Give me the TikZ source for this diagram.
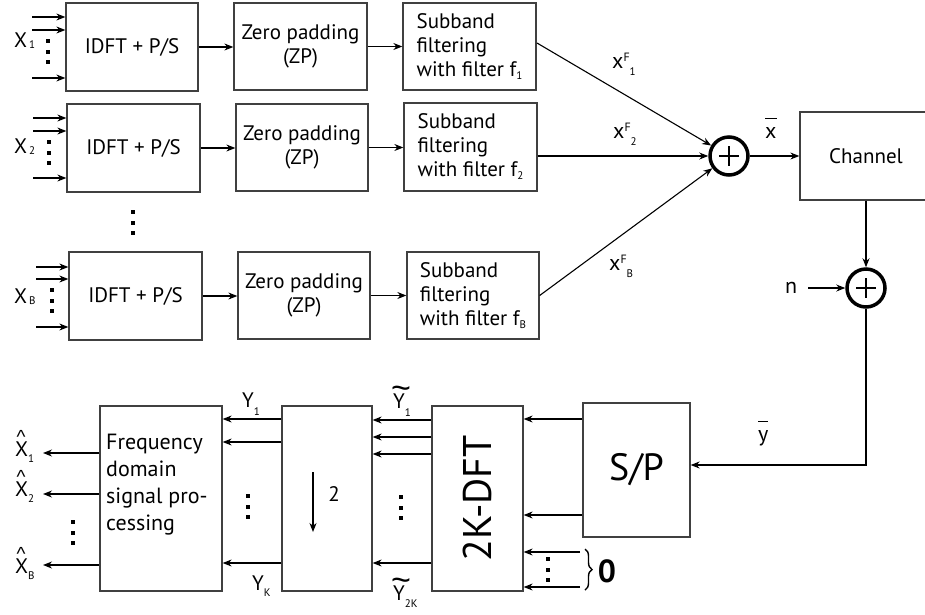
\documentclass[tikz,border=0pt]{standalone}
\usepackage{fontspec}
\setmainfont{PT Sans}
\newfontfamily\mkfont{Liberation Sans}
\usetikzlibrary{arrows.meta,decorations.pathreplacing}
\newcommand\sbx[2][6pt]{\raisebox{-#1}{\fontsize{11}{11}\selectfont #2}}
\newcommand\spx[1]{\raisebox{7pt}{\fontsize{12}{12}\selectfont #1}}
\newcommand\topm[3]{\rlap{\hspace{#2}\raisebox{#3}{#1}}}
\newcommand\obar[1]{\setbox0\hbox{#1}\rlap{\raisebox{19pt}{\rule{\wd0}{1.1pt}}}\box0}
\newcommand\hatm{\mkfont\fontsize{19}{19}\selectfont\char"5E}
\newcommand\tilm{\mkfont\fontsize{34}{34}\selectfont\char"7E}
\newcommand\dotcol[2]{\foreach \dy in {0,10.5,21}{\fill (#1-2,#2+\dy-2) rectangle ++(4,4);}}
\begin{document}
\begin{tikzpicture}[x=1pt,y=-1pt,
  font=\fontsize{21}{24}\selectfont,
  blk/.style={draw=black!75,line width=1.3pt,inner sep=0pt,align=center},
  arr/.style={-{Stealth[length=9pt,width=7pt]},line width=1.1pt},
  sumnode/.style={circle,draw,line width=3.5pt,minimum size=38pt,inner sep=0pt},
  lbl/.style={anchor=base west,inner sep=0pt},
  big/.style={font=\fontsize{22}{24}\selectfont}]
\useasboundingbox (0,0) rectangle (925,614);
\clip (0,0) rectangle (925,614);

% ---- row 1
\node[blk,minimum width=132,minimum height=88] (idftA) at (132,47) {IDFT + P/S};
\node[blk,minimum width=133,minimum height=87] (zpA) at (300.5,46.5) {Zero padding\\(ZP)};
\node[blk,align=left,minimum width=133,minimum height=87] (sbA) at (469.5,46.5) {Subband\\filtering\\with filter f\sbx[3pt]{1}};
% ---- row 2
\node[blk,minimum width=133,minimum height=88] (idftB) at (133.5,148) {IDFT + P/S};
\node[blk,minimum width=132,minimum height=87] (zpB) at (302,147.5) {Zero padding\\(ZP)};
\node[blk,align=left,minimum width=133,minimum height=88] (sbB) at (470.5,147) {Subband\\filtering\\with filter f\sbx[3pt]{2}};
% ---- row B
\node[blk,minimum width=133,minimum height=88] (idftC) at (135.5,296) {IDFT + P/S};
\node[blk,minimum width=132,minimum height=87] (zpC) at (304,295.5) {Zero padding\\(ZP)};
\node[blk,align=left,minimum width=132,minimum height=87] (sbC) at (473,295.5) {Subband\\filtering\\with filter f\sbx[3pt]{B}};

\foreach \r in {A,B,C}{
  \draw[arr] (idft\r.east) -- (idft\r.east -| zp\r.west);
  \draw[arr] (zp\r.east) -- (zp\r.east -| sb\r.west);
}
\foreach \yy in {17,30,78}{\coordinate (in) at (32,\yy); \draw[arr] (in) -- (in -| idftA.west);}
\foreach \yy in {118,131,178}{\coordinate (in) at (33,\yy); \draw[arr] (in) -- (in -| idftB.west);}
\foreach \yy in {267,279,327}{\coordinate (in) at (36,\yy); \draw[arr] (in) -- (in -| idftC.west);}

\node[lbl] (XA) at (14,47) {X\hspace{2pt}\sbx[1pt]{1}};
\node[lbl] (XB) at (14,153) {X\hspace{2pt}\sbx[1pt]{2}};
\node[lbl] (XC) at (14,303) {X\hspace{2pt}\sbx[1pt]{B}};
\dotcol{48}{41}
\dotcol{49}{142}
\dotcol{52}{290}
\dotcol{133}{212}

% ---- summation and channel
\node[sumnode] (s1) at (729,156) {};
\draw[line width=1.8pt] (s1.center) +(-10,0) -- +(10,0) (s1.center) +(0,-10) -- +(0,10);
\coordinate (sbAout) at (537,43);
\draw[arr] (sbAout) -- (s1);
\draw[arr] (sbB.east |- s1) -- (s1.west);
\draw[arr] (sbC.east) -- (s1);
\node[lbl,big] (xf1) at (612,68) {x\spx{F}\sbx[7pt]{1}};
\node[lbl,big] (xf2) at (613,138) {x\spx{F}\sbx[7pt]{2}};
\node[lbl,big] (xf3) at (609,270) {x\spx{F}\sbx[7pt]{B}};

\node[blk,minimum width=132,minimum height=88] (ch) at (866,156) {Channel};
\draw[arr] (s1.east) -- (ch.west);
\node[lbl,big] (xbar) at (765,138) {\obar{x}};

\node[sumnode] (s2) at (866,288) {};
\draw[line width=1.8pt] (s2.center) +(-10,0) -- +(10,0) (s2.center) +(0,-10) -- +(0,10);
\draw[arr] (ch.south) -- (s2.north);
\node[lbl,big] (nlab) at (785,293) {n};
\coordinate (nin) at (808,288);
\draw[arr] (nin) -- (s2.west);

% ---- receiver
\node[blk,minimum width=107,minimum height=134,font=\fontsize{38}{38}\selectfont] (sp) at (636.5,470) {S/P};
\draw[arr] (s2.south) |- ([yshift=5pt]sp.east);
\node[lbl,big] (ybar) at (758,441) {\obar{y}};

\node[blk,rotate=90,minimum width=185,minimum height=91,font=\fontsize{40}{40}\selectfont] (dft) at (477.5,498.5) {2K-DFT};
\foreach \yy in {419,515}{\coordinate (c) at (0,\yy); \draw[arr] (c -| sp.west) -- (c -| dft.south);}
\coordinate (z1) at (580,552);
\coordinate (z2) at (580,587);
\draw[arr] (z1) -- (z1 -| dft.south);
\draw[arr] (z2) -- (z2 -| dft.south);
\dotcol{548}{559}
\draw[decorate,decoration={brace,amplitude=7pt},line width=1.4pt] (585,549) -- (585,590);
\node[font=\bfseries\fontsize{32}{32}\selectfont] (zero) at (607,571) {0};

\node[blk,minimum width=90,minimum height=185] (ds) at (327,498.5) {};
\draw[arr] (313,472) -- (313,532);
\node (two) at (334,494) {2};
\foreach \yy in {420,437,454,563}{\coordinate (c) at (0,\yy); \draw[arr] (c -| dft.north) -- (c -| ds.east);}
\dotcol{401}{497}
\node[lbl] (yt1) at (393,408) {\topm{\tilm}{-2pt}{9pt}Y\sbx[8pt]{1}};
\node[lbl] (yt2) at (393,600) {\topm{\tilm}{-2pt}{9pt}Y\sbx[7pt]{2K}};

\node[blk,minimum width=122,minimum height=185] (fq) at (161,498.5) {};
\node[anchor=west,align=left,inner sep=0pt,font=\fontsize{22}{27}\selectfont] (fqt) at (106,485) {Frequency\\domain\\signal pro-\\cessing};
\foreach \yy in {419,442,563}{\coordinate (c) at (0,\yy); \draw[arr] (c -| ds.west) -- (c -| fq.east);}
\dotcol{248}{496}
\node[lbl] (y1) at (242,407) {Y\sbx[8pt]{1}};
\node[lbl] (yk) at (252,590) {Y\sbx[6pt]{K}};

\foreach \yy in {453,494,565}{\coordinate (o) at (43,\yy); \draw[arr] (o -| fq.west) -- (o);}
\node[lbl] (xh1) at (15,456) {\topm{\hatm}{1.5pt}{13pt}X\sbx[6pt]{1}};
\node[lbl] (xh2) at (15,496) {\topm{\hatm}{1.5pt}{13pt}X\sbx[6pt]{2}};
\node[lbl] (xh3) at (15,573) {\topm{\hatm}{1.5pt}{13pt}X\sbx[6pt]{B}};
\dotcol{73}{522}
\end{tikzpicture}
\end{document}
